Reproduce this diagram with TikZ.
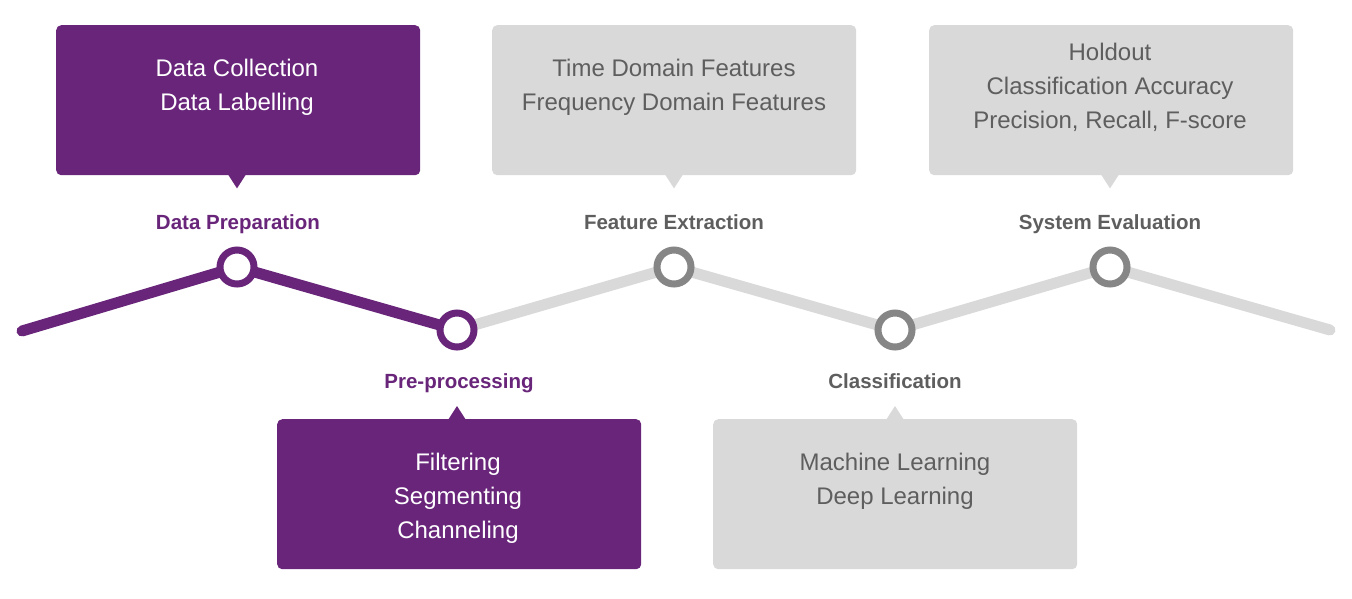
\documentclass[tikz,border=0pt]{standalone}
\usepackage{fontspec}
\setmainfont{Liberation Sans}
\usetikzlibrary{backgrounds}
\definecolor{purp}{HTML}{68257A}
\definecolor{lgray}{HTML}{D9D9D9}
\definecolor{tgray}{HTML}{5E5E5E}
\definecolor{cgray}{HTML}{868686}
\begin{document}
\begin{tikzpicture}[x=1pt,y=-1pt,
  box/.style={rectangle, rounded corners=5pt, minimum width=364pt, minimum height=150pt, inner sep=0pt, anchor=north west},
  boxtext/.style={align=center, font=\fontsize{24}{34}\selectfont, inner sep=0pt},
  lbl/.style={font=\fontsize{20.5}{24}\selectfont\bfseries, inner sep=0pt, anchor=base},
  dot/.style={circle, draw, line width=7pt, fill=white, minimum size=34pt, inner sep=0pt},
  track/.style={line width=11pt, line cap=round, line join=round}]
\useasboundingbox (0,0) rectangle (1352,598);
% timeline points
\coordinate (s) at (22,331);
\coordinate (e) at (1330,330);
\node[dot, draw=purp] (p1) at (237,267) {};
\node[dot, draw=purp] (p2) at (457,330) {};
\node[dot, draw=cgray] (p3) at (674,267) {};
\node[dot, draw=cgray] (p4) at (895,330) {};
\node[dot, draw=cgray] (p5) at (1110,267) {};
\begin{scope}[on background layer]
  \draw[track, lgray] (p2.center) -- (p3.center) -- (p4.center) -- (p5.center) -- (e);
  \draw[track, purp] (s) -- (p1.center) -- (p2.center);
\end{scope}
% callout boxes
\node[box, fill=purp] (b1) at (56,25) {};
\fill[purp] (b1.south -| p1) ++(-9,-1) -- ++(9,14) -- ++(9,-14) -- cycle;
\node[box, fill=lgray] (b3) at (492,25) {};
\fill[lgray] (b3.south -| p3) ++(-9,-1) -- ++(9,14) -- ++(9,-14) -- cycle;
\node[box, fill=lgray] (b4) at (929,25) {};
\fill[lgray] (b4.south -| p5) ++(-9,-1) -- ++(9,14) -- ++(9,-14) -- cycle;
\node[box, fill=purp] (b2) at (277,419) {};
\fill[purp] (b2.north -| p2) ++(-9,1) -- ++(9,-14) -- ++(9,14) -- cycle;
\node[box, fill=lgray] (b5) at (713,419) {};
\fill[lgray] (b5.north -| p4) ++(-9,1) -- ++(9,-14) -- ++(9,14) -- cycle;
% box texts
\node[boxtext, text=white] (t1) at (237,87.5) {Data Collection\\Data Labelling};
\node[boxtext, text=tgray] (t3) at (674,87.5) {Time Domain Features\\Frequency Domain Features};
\node[boxtext, text=tgray] (t4) at (1110,87) {Holdout\\Classification Accuracy\\Precision, Recall, F-score};
\node[boxtext, text=white] (t2) at (458,498) {Filtering\\Segmenting\\Channeling};
\node[boxtext, text=tgray] (t5) at (895,480.8) {Machine Learning\\Deep Learning};
% stage labels
\node[lbl, text=purp] (l1) at (238,229) {Data Preparation};
\node[lbl, text=tgray] (l3) at (674,229) {Feature Extraction};
\node[lbl, text=tgray] (l5) at (1110,229) {System Evaluation};
\node[lbl, text=purp] (l2) at (459,388) {Pre-processing};
\node[lbl, text=tgray] (l4) at (895,388) {Classification};
\end{tikzpicture}
\end{document}
